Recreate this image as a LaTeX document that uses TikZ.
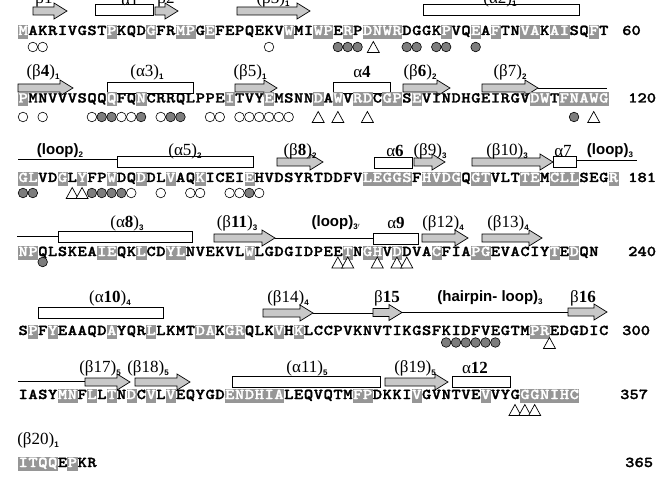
\documentclass[tikz,border=0pt]{standalone}
\usepackage{fontspec}
\newfontfamily\lblfont{Liberation Serif}
\newfontfamily\lsans{Liberation Sans}
\newfontfamily\seqf{lmmonolt10-bold.otf}[FakeStretch=1.18,FakeBold=1.6]
\definecolor{hlgray}{RGB}{150,150,150}
\definecolor{arrgray}{RGB}{200,200,200}
\definecolor{dotgray}{RGB}{125,125,125}
\newlength\pitch
\setlength\pitch{9.84pt}
\newcommand\seqfont{\seqf\fontsize{15}{15}\selectfont}
\def\seqloop#1{\ifx#1\relax\else\seqchar{#1}\expandafter\seqloop\fi}
\def\seqchar#1{\ifnum`#1>`Z\relax\rlap{\textcolor{hlgray}{\rule[-4pt]{\dimexpr\pitch+0.3pt\relax}{14pt}}}\makebox[\pitch]{\textcolor{white}{\char\numexpr`#1-32\relax}}\else\makebox[\pitch]{#1}\fi}
\newcommand\sub[1]{\raisebox{-3pt}{\lsans\bfseries\fontsize{8}{8}\selectfont #1}}
\tikzset{
  seq/.style={anchor=base west,inner sep=0pt,font=\seqfont},
  num/.style={anchor=base west,inner sep=0pt,font=\seqfont},
  lbl/.style={inner sep=0pt,font=\lblfont\fontsize{17}{17}\selectfont},
  lpl/.style={inner sep=0pt,font=\lsans\bfseries\fontsize{15}{15}\selectfont},
  sarrow/.style={draw=black,fill=arrgray,line width=0.7pt,line join=miter},
  helix/.style={draw=black,fill=white,line width=0.7pt},
  loopline/.style={draw=black,line width=0.8pt},
  ocirc/.style={draw=black,fill=white,line width=0.6pt},
  gcirc/.style={draw=black,fill=dotgray,line width=0.6pt},
  tri/.style={draw=black,fill=white,line width=0.7pt,line join=miter}
}
\newcommand\seqrow[2]{\node[seq] at (18.08,#1) {\seqloop #2\relax};}
\newcommand\ocircs[3]{\foreach \r in {#3}{\draw[ocirc] ({23+(\r-#1)*9.84},#2) circle (4.8pt);}}
\newcommand\gcircs[3]{\foreach \r in {#3}{\draw[gcirc] ({23+(\r-#1)*9.84},#2) circle (4.8pt);}}
\newcommand\tris[3]{\foreach \r in {#3}{\draw[tri] ({23+(\r-#1)*9.84-6},#2+5.5) -- ++(6,-11) -- ++(6,11) -- cycle;}}
\newcommand\sarr[3]{\draw[sarrow] (#1,#3-4) -- (#2-13,#3-4) -- (#2-13,#3-8) -- (#2,#3) -- (#2-13,#3+8) -- (#2-13,#3+4) -- (#1,#3+4) -- cycle;}
\newcommand\hbx[3]{\draw[helix] (#1,#3-5.5) rectangle (#2,#3+5.5);}
\newcommand\lp[3]{\draw[loopline] (#1,#3) -- (#2,#3);}
\begin{document}
\begin{tikzpicture}[x=1pt,y=-1pt]
\useasboundingbox (0,0) rectangle (658,489);
\fill[white] (0,0) rectangle (658,489);
% ---------- row 1 (1-60)
\sarr{33}{67}{11}
\hbx{95}{153}{10}
\sarr{155}{178}{11}
\sarr{237}{310}{11}
\hbx{423}{579}{10}
\node[lbl] at (44,-0.5) {β1};
\node[lbl] at (130,-0.5) {α1};
\node[lbl] at (166,-0.5) {β2};
\node[lbl] at (273,-0.5) {(β3)\sub{1}};
\node[lbl] at (500,-0.5) {(α2)\sub{1}};
\seqrow{35}{mAKRIVGSTpKQDgFRmpGeFEPQEKVwMIwpErPdnwrDGGKpVQeAfTNvaKaiSQfT}
\node[num] at (622,35) {60};
\ocircs{1}{47}{2,3,26}
\gcircs{1}{47}{33,34,35,40,41,43,44,47}
\tris{1}{47}{36.6}
% ---------- row 2 (61-120)
\sarr{18}{73}{88}
\hbx{107}{193}{88}
\sarr{235}{277}{88}
\hbx{333}{390}{88}
\sarr{403}{450}{88}
\lp{538}{607}{88}
\sarr{482}{538}{88}
\node[lbl] at (43,72) {(β\textbf{4})\sub{1}};
\node[lbl] at (147,72) {(α3)\sub{1}};
\node[lbl] at (250,72) {(β5)\sub{1}};
\node[lbl] at (362,72) {α\textbf{4}};
\node[lbl] at (420,72) {(β\textbf{6})\sub{2}};
\node[lbl] at (510,72) {(β7)\sub{2}};
\seqrow{102.5}{pMNVVVSQQqFQnCRRQLPPEiTVYeMSNNdAwVrdCgpSeVINDHGEIRGVdwTfnawg}
\node[num] at (628,102.5) {120};
\ocircs{61}{117}{61,63,68,71,72,75,80,81,83,84,85,86,87,88}
\gcircs{61}{117}{69,70,73,76,77,117}
\tris{61}{117}{91,93,96,119}
% ---------- row 3 (121-181)
\lp{18}{117}{159}
\hbx{117}{253}{162}
\sarr{277}{323}{162}
\hbx{374}{412}{162.5}
\sarr{414}{445}{162}
\sarr{472}{553}{162}
\lp{576}{637}{160}
\hbx{553}{576}{162}
\node[lpl] at (60,151) {(loop)\sub{2}};
\node[lbl] at (185,151) {(α5)\sub{2}};
\node[lbl] at (300,151) {(β\textbf{8})\sub{2}};
\node[lbl] at (395,151) {α\textbf{6}};
\node[lbl] at (430,151) {(β9)\sub{3}};
\node[lbl] at (507,151) {(β10)\sub{3}};
\node[lbl] at (563,151) {α7};
\node[lpl] at (610,151) {(loop)\sub{3}};
\seqrow{182}{glVDgLyFPwDQdDLvAQkICEIeHVDSYRTDDFVleggsFhvdgQgtVLTteMcllSEGr}
\node[num] at (628,182) {181};
\ocircs{121}{193}{132,135,138,139,142,143,145}
\gcircs{121}{193}{121,122,128,129,130,131,144}
\tris{121}{193}{126,127}
% ---------- row 4 (182-240)
\lp{17}{58}{236}
\hbx{58}{192}{237}
\lp{275}{373}{238}
\sarr{214}{275}{238}
\hbx{373}{418}{238.5}
\sarr{422}{468}{238}
\sarr{482}{542}{238}
\node[lbl] at (127,223) {(α\textbf{8})\sub{3}};
\node[lbl] at (237,223) {(β\textbf{11})\sub{3}};
\node[lpl] at (336,223) {(loop)\sub{3$'$}};
\node[lbl] at (396,223) {α\textbf{9}};
\node[lbl] at (443,223) {(β12)\sub{4}};
\node[lbl] at (508,223) {(β13)\sub{4}};
\seqrow{256}{npQLSKEAieQKlCDylNVEKVLwLGDGIDPEEtNghVdDVAcFIApgEVACIYtEdQN}
\node[num] at (628,256) {240};
\gcircs{182}{262}{184}
\tris{182}{262.5}{214,215,218,220,221}
% ---------- row 5 (241-300)
\hbx{38}{163}{312.5}
\lp{313}{373}{313}
\lp{402}{568}{312}
\sarr{263}{313}{313}
\sarr{373}{402}{312.5}
\sarr{568}{607}{312}
\node[lbl] at (110,298) {(α\textbf{10})\sub{4}};
\node[lbl] at (288,298) {(β14)\sub{4}};
\node[lbl] at (387,298) {β\textbf{15}};
\node[lpl] at (490,298) {(hairpin- loop)\sub{3}};
\node[lbl] at (583,298) {β\textbf{16}};
\seqrow{335}{SpFyEAAQDaYQRlLKMTdaKgrQLKvHkLCCPVKNVTIKGSFKIDFVEGTMprEDGDIC}
\node[num] at (622,335) {300};
\gcircs{241}{342.5}{284,285,286,287,288,289}
\tris{241}{343}{294.5}
% ---------- row 6 (301-357)
\lp{18}{85}{381}
\sarr{85}{130}{382}
\sarr{135}{190}{382}
\hbx{232}{380}{382}
\sarr{385}{448}{382}
\hbx{452}{510}{382}
\node[lbl] at (100,368) {(β17)\sub{5}};
\node[lbl] at (148,368) {(β18)\sub{5}};
\node[lbl] at (307,368) {(α11)\sub{5}};
\node[lbl] at (415,368) {(β19)\sub{5}};
\node[lbl] at (475,368) {α\textbf{12}};
\seqrow{399}{IASYmnFlLtNdCvLvEQYGDendhiaLEQVQTMfpDKKIvGVNTVEvVYGggnihc}
\node[num] at (620,399) {357};
\tris{301}{410}{351,352,353}
% ---------- row 7 (358-365)
\node[lbl] at (38,440) {(β20)\sub{1}};
\seqrow{467}{itqqEpKR}
\node[num] at (625,467) {365};
\end{tikzpicture}
\end{document}
